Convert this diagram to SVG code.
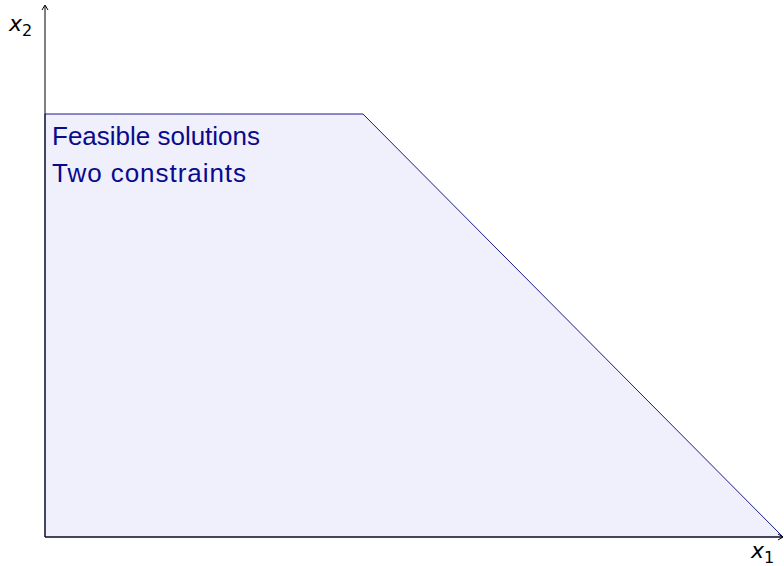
<svg xmlns="http://www.w3.org/2000/svg" width="784" height="566" viewBox="0 0 784 566">
<style>
.axis{stroke:#000;stroke-width:1;fill:none}
.lbl{font-family:"DejaVu Sans",sans-serif;fill:#000}
.reg{font-family:"Liberation Sans",Arial,sans-serif;fill:#0a0a8c;font-size:26px}
</style>
<rect width="784" height="566" fill="#fff"/>
<g id="region">
<polygon points="45,537 45,114 363,114 783,537" fill="#f0f0fc" stroke="#1a1a8b" stroke-width="1"/>
<text class="reg" x="52" y="145" textLength="208" lengthAdjust="spacing">Feasible solutions</text>
<text class="reg" x="52" y="182" textLength="194" lengthAdjust="spacing">Two constraints</text>
</g>
<g id="axes">
<line class="axis" x1="45" y1="537" x2="45" y2="6"/>
<path class="axis" d="M42,10 L45,5 L48,10"/>
<line class="axis" x1="45" y1="537" x2="782" y2="537"/>
<path class="axis" d="M778,534 L783,537 L778,540"/>
</g>
<g id="labels">
<text class="lbl" x="9" y="31" font-size="22" font-style="italic">x<tspan font-size="16" font-style="normal" dy="5">2</tspan></text>
<text class="lbl" x="751" y="558" font-size="22" font-style="italic">x<tspan font-size="16" font-style="normal" dy="5">1</tspan></text>
</g>
</svg>
